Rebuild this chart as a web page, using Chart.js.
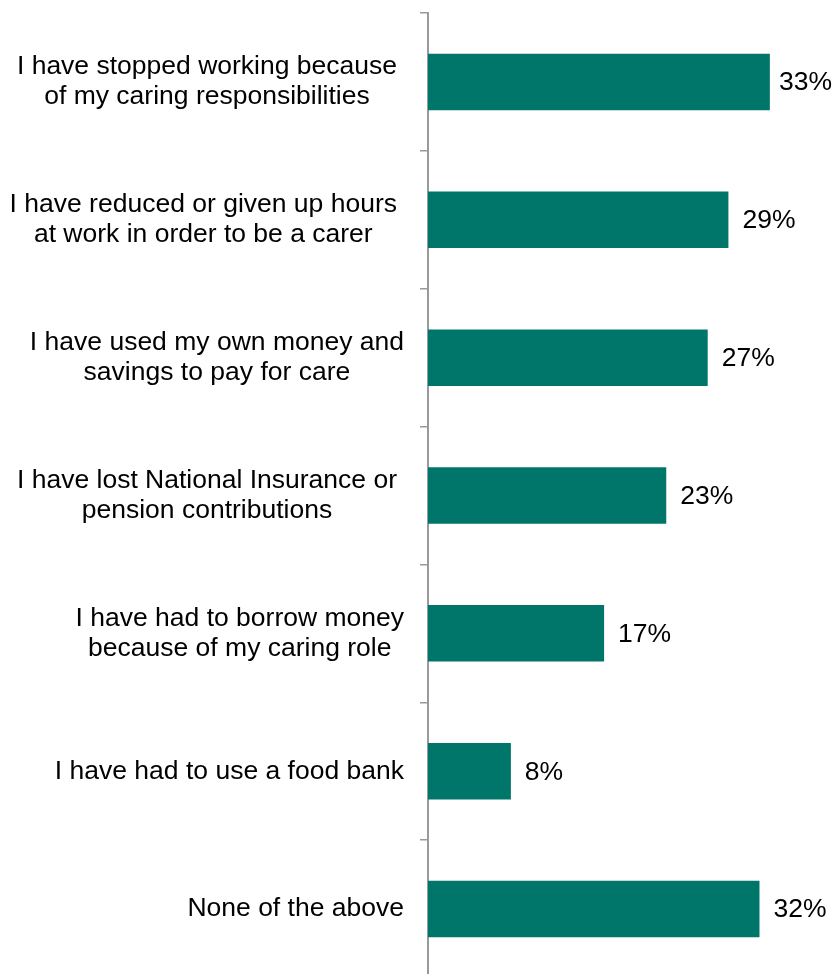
<!DOCTYPE html>
<html>
<head>
<meta charset="utf-8">
<script src="https://cdn.jsdelivr.net/npm/chart.js@4"></script>
<style>
  html, body { margin: 0; padding: 0; background: #fff; overflow: hidden; }
  #wrap { width: 832px; height: 980px; }
</style>
</head>
<body>
<div id="wrap"><canvas id="impactChart" width="832" height="980"></canvas></div>
<script>
const categories = [
    ['I have stopped working because', 'of my caring responsibilities'],
    ['I have reduced or given up hours', 'at work in order to be a carer'],
    ['I have used my own money and', 'savings to pay for care'],
    ['I have lost National Insurance or', 'pension contributions'],
    ['I have had to borrow money', 'because of my caring role'],
    ['I have had to use a food bank'],
    ['None of the above']
];
const percentages = [33, 29, 27, 23, 17, 8, 32];
const valueLabels = ['33%', '29%', '27%', '23%', '17%', '8%', '32%'];

const FONT = '26.5px "Liberation Sans", Arial, sans-serif';
const AXIS_GREY = '#9a9a9a';

// category labels: lines centred inside a right-aligned block
const categoryLabels = {
    id: 'categoryLabels',
    afterDraw(chart) {
        const ctx = chart.ctx;
        const yScale = chart.scales.y;
        ctx.save();
        ctx.font = FONT;
        ctx.fillStyle = '#000';
        ctx.textAlign = 'center';
        ctx.textBaseline = 'middle';
        categories.forEach((lines, i) => {
            const y = yScale.getPixelForTick(i);
            const widths = lines.map(l => ctx.measureText(l).width);
            const blockW = Math.max(...widths);
            const right = blockW > 377 ? 397 : 404;
            const cx = right - blockW / 2;
            const lineH = 30;
            const top = y - (lines.length - 1) * lineH / 2;
            lines.forEach((l, j) => ctx.fillText(l, cx, top + j * lineH));
        });
        ctx.restore();
    }
};

// value labels to the right of each bar
const valueTags = {
    id: 'valueTags',
    afterDatasetsDraw(chart) {
        const ctx = chart.ctx;
        const meta = chart.getDatasetMeta(0);
        ctx.save();
        ctx.font = FONT;
        ctx.fillStyle = '#000';
        ctx.textAlign = 'left';
        ctx.textBaseline = 'middle';
        meta.data.forEach((bar, i) => {
            const w = ctx.measureText(valueLabels[i]).width;
            let x = bar.x + 14;
            if (x + w > chart.width) x = chart.width - w;
            ctx.fillText(valueLabels[i], x, bar.y + 1);
        });
        ctx.restore();
    }
};

const ctx = document.getElementById('impactChart').getContext('2d');
new Chart(ctx, {
    type: 'bar',
    data: {
        labels: categories,
        datasets: [{
            data: percentages,
            backgroundColor: '#00766a',
            borderWidth: 0,
            barPercentage: 0.41,
            categoryPercentage: 1
        }]
    },
    options: {
        indexAxis: 'y',
        responsive: false,
        animation: false,
        layout: { padding: { top: 13, bottom: 2, left: 0, right: 0 } },
        scales: {
            x: {
                display: false,
                min: 0,
                max: 39
            },
            y: {
                afterFit(scale) { scale.width = 428; },
                ticks: { display: false },
                grid: {
                    offset: true,
                    drawOnChartArea: false,
                    drawTicks: true,
                    tickLength: 8,
                    color: AXIS_GREY,
                    lineWidth: 1.5
                },
                border: { display: true, color: AXIS_GREY, width: 2 }
            }
        },
        plugins: {
            legend: { display: false },
            tooltip: { enabled: false }
        }
    },
    plugins: [categoryLabels, valueTags]
});
</script>
</body>
</html>
